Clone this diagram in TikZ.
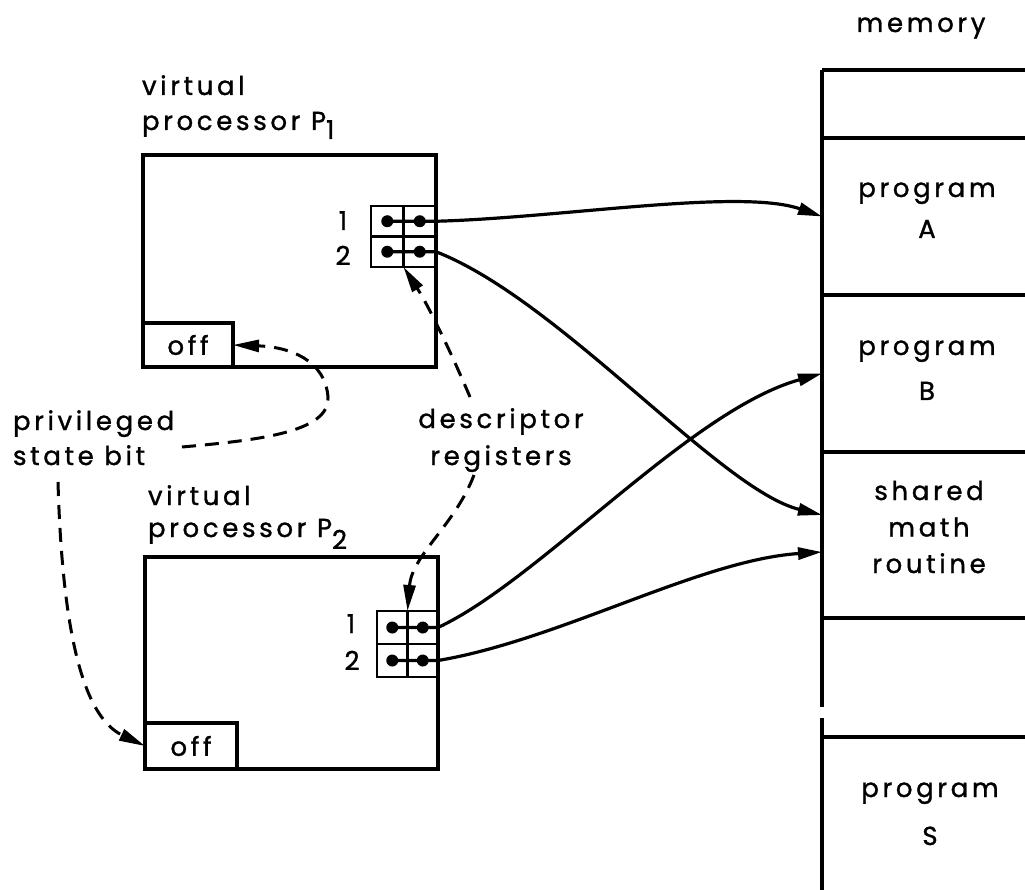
\documentclass[tikz,border=0pt]{standalone}
\usepackage{fontspec}
\newfontfamily\plotfont[LetterSpace=14,FakeBold=1.2]{Poppins}
\usetikzlibrary{arrows.meta}
\newcommand\cstack[2]{\vtop{\baselineskip=#1\lineskiplimit=-1000pt\halign{\hfil##\hfil\cr#2\crcr}}}
\newcommand\lstack[2]{\vtop{\baselineskip=#1\lineskiplimit=-1000pt\halign{##\hfil\cr#2\crcr}}}
\tikzset{
  lw/.style={line width=3.2pt},
  vpbox/.style={draw, line width=3.2pt, outer sep=0pt, inner sep=0pt},
  regcell/.style={draw, line width=2.6pt, outer sep=0pt, inner sep=0pt},
  regdot/.style={circle, fill, minimum size=12pt, inner sep=0pt},
  lbl/.style={font=\plotfont\fontsize{26}{26}\selectfont, inner sep=0pt, outer sep=0pt},
  link/.style={line width=3.2pt, -{Triangle[length=24pt,width=12pt]}},
  dlink/.style={line width=3pt, dash pattern=on 14pt off 9pt, -{Triangle[length=26pt,width=12pt]}},
  memcell/.style={minimum width=203pt, outer sep=0pt, inner sep=0pt},
}
\begin{document}
\begin{tikzpicture}[x=1pt,y=-1pt]
\fill[white] (0,0) rectangle (1025,890);
\useasboundingbox (0,0) rectangle (1025,890);

% virtual processor P1
\node[vpbox, minimum width=293pt, minimum height=212pt] (p1) at (289.5,261) {};
\node[vpbox, lbl, minimum width=90pt, minimum height=44pt, anchor=south west] (off1) at (p1.south west) {off};
\node[regcell, minimum width=32.5pt, minimum height=30.5pt] (r1a) at (387.25,221.25) {};
\node[regcell, minimum width=32.5pt, minimum height=30.5pt] (r1b) at (419.75,221.25) {};
\node[regcell, minimum width=32.5pt, minimum height=30.5pt] (r2a) at (387.25,251.75) {};
\node[regcell, minimum width=32.5pt, minimum height=30.5pt] (r2b) at (419.75,251.75) {};
\node[regdot] (d11) at (r1a) {};
\node[regdot] (d12) at (r1b) {};
\node[regdot] (d21) at (r2a) {};
\node[regdot] (d22) at (r2b) {};
\node[lbl, anchor=base] (n11) at (343,230) {1};
\node[lbl, anchor=base] (n12) at (343,265) {2};

% virtual processor P2
\node[vpbox, minimum width=293pt, minimum height=212pt] (p2) at (291.5,663) {};
\node[vpbox, lbl, minimum width=92pt, minimum height=46pt, anchor=south west] (off2) at (p2.south west) {off};
\node[regcell, minimum width=30.5pt, minimum height=33pt] (q1a) at (392.25,627.5) {};
\node[regcell, minimum width=30.5pt, minimum height=33pt] (q1b) at (422.75,627.5) {};
\node[regcell, minimum width=30.5pt, minimum height=33pt] (q2a) at (392.25,660.5) {};
\node[regcell, minimum width=30.5pt, minimum height=33pt] (q2b) at (422.75,660.5) {};
\node[regdot] (e11) at (q1a) {};
\node[regdot] (e12) at (q1b) {};
\node[regdot] (e21) at (q2a) {};
\node[regdot] (e22) at (q2b) {};
\node[lbl, anchor=base] (n21) at (351,633) {1};
\node[lbl, anchor=base] (n22) at (352,670) {2};

% memory
\node[memcell, minimum height=68pt] (memTop) at (923.5,104) {};
\node[memcell, minimum height=157pt] (memA) at (923.5,216.5) {};
\node[memcell, minimum height=157pt] (memB) at (923.5,373.5) {};
\node[memcell, minimum height=166pt] (memM) at (923.5,535) {};
\node[memcell, minimum height=119pt] (memE) at (923.5,677.5) {};
\node[memcell, minimum height=153pt] (memS) at (923.5,813.5) {};
\draw[lw] (memTop.north west) -- (memTop.north east);
\draw[lw] (memA.north west) -- (memA.north east);
\draw[lw] (memB.north west) -- (memB.north east);
\draw[lw] (memM.north west) -- (memM.north east);
\draw[lw] (memE.north west) -- (memE.north east);
\draw[line width=4pt] (memS.north west) -- (memS.north east);
\draw[lw] (memTop.north west) -- (memE.west |- 0,707);
\draw[lw] (memE.west |- 0,718) -- (memS.south west);

% labels
\node[lbl, anchor=base west] (vp1) at (142,95) {\lstack{35pt}{virtual\cr processor P\raisebox{-9pt}{1}}};
\node[lbl, anchor=base west] (vp2) at (148,505) {\lstack{32pt}{virtual\cr processor P\raisebox{-12pt}{2}}};
\node[lbl, anchor=base west] (priv) at (13,430) {\lstack{35pt}{privileged\cr state bit}};
\node[lbl, anchor=base] (desc) at (501,428) {\cstack{37pt}{descriptor\cr registers}};
\node[lbl, anchor=base] (memlbl) at (921,32) {memory};
\node[lbl, anchor=base] (tA) at (927,197) {\cstack{41pt}{program\cr A}};
\node[lbl, anchor=base] (tB) at (927,355) {\cstack{45pt}{program\cr B}};
\node[lbl, anchor=base] (tM) at (929,500) {\cstack{36.5pt}{shared\cr math\cr routine}};
\node[lbl, anchor=base] (tS) at (930,797) {\cstack{48pt}{program\cr S}};

% solid connectors
\draw[link] (d11.center) -- (r1b.east) .. controls (560,218) and (740,188) .. (memA.west);
\draw[link] (d21.center) -- (r2b.east) .. controls (560,300) and (720,490) .. ([yshift=20pt]memM.west);
\draw[link] (e11.center) -- (q1b.east) .. controls (540,580) and (690,410) .. (memB.west);
\draw[link] (e21.center) -- (q2b.east) .. controls (560,640) and (700,560) .. ([yshift=-17pt]memM.west);

% dashed connectors
\coordinate (privA) at (182,447);
\coordinate (privB) at (58,482);
\coordinate (descA) at (470,397);
\coordinate (descB) at (474,475);
\draw[dlink] (privA) .. controls (260,440) and (330,432) .. (328,397) .. controls (325,360) and (290,347) .. (off1.east);
\draw[dlink] (privB) .. controls (62,620) and (80,715) .. (off2.west);
\draw[dlink] (descA) .. controls (450,350) and (428,305) .. (r2b.south west);
\draw[dlink] (descB) .. controls (455,525) and (412,555) .. (q1b.north west);
\end{tikzpicture}
\end{document}
